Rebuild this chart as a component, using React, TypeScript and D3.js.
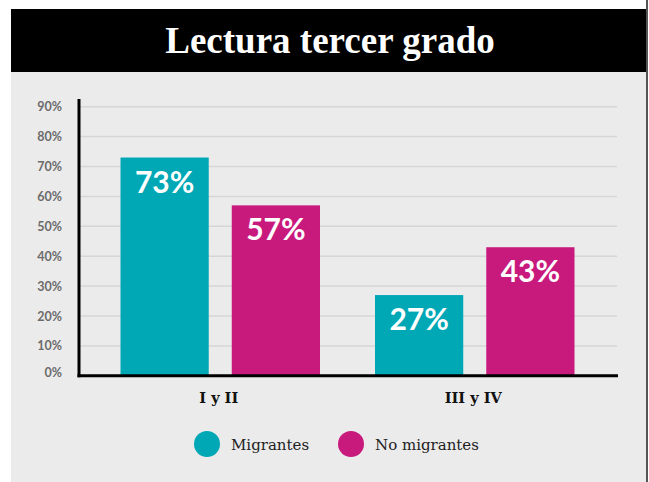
import React, { useEffect, useRef } from 'react';
import * as d3 from 'd3';

const title = 'Lectura tercer grado';
const categories = ['I y II', 'III y IV'];
const seriesNames = ['Migrantes', 'No migrantes'];
const migrantes = [73, 27];
const noMigrantes = [57, 43];
const yTicks = [0, 10, 20, 30, 40, 50, 60, 70, 80, 90];
const colors = ['#00a7b5', '#c8197c'];

const App = () => {
  const svgRef = useRef<SVGSVGElement>(null);

  useEffect(() => {
    const width = 649;
    const height = 482;
    const svg = d3.select(svgRef.current).attr('width', width).attr('height', height);
    svg.selectAll('*').remove();

    // panel + header
    svg.append('rect').attr('x', 11).attr('y', 9).attr('width', 635).attr('height', 473).attr('fill', '#ebebeb');
    svg.append('rect').attr('x', 646).attr('y', 0).attr('width', 2).attr('height', height).attr('fill', '#555');
    svg.append('rect').attr('x', 11).attr('y', 9).attr('width', 635).attr('height', 63).attr('fill', '#000');
    svg
      .append('text')
      .attr('x', 330)
      .attr('y', 53)
      .attr('text-anchor', 'middle')
      .attr('fill', '#fff')
      .style('font-family', '"Liberation Serif", serif')
      .style('font-weight', 'bold')
      .style('font-size', '37px')
      .text(title);

    const yScale = d3.scaleLinear().domain([0, 90]).range([375.8, 106.7]);
    const x0 = d3.scaleBand().domain(categories).range([93, 602]).padding(0);
    const x1 = d3
      .scaleBand()
      .domain(seriesNames)
      .range([27.5, x0.bandwidth() - 27.5])
      .paddingInner(0.207)
      .paddingOuter(0);

    // grid
    svg
      .append('g')
      .selectAll('line')
      .data(yTicks.slice(1))
      .join('line')
      .attr('x1', 79)
      .attr('x2', 617)
      .attr('y1', (d) => yScale(d))
      .attr('y2', (d) => yScale(d))
      .attr('stroke', '#d6d6d6')
      .attr('stroke-width', 1.5);

    // tick labels
    svg
      .append('g')
      .selectAll('text')
      .data(yTicks)
      .join('text')
      .attr('x', 62)
      .attr('y', (d) => yScale(d) + 4.5 - (d === 0 ? 3 : 0))
      .attr('text-anchor', 'end')
      .attr('fill', '#6b6b6b')
      .style('font-family', 'Lato, sans-serif')
      .style('font-weight', 'bold')
      .style('font-size', '12.5px')
      .text((d) => d + '%');

    const rows = categories.map((c, i) => ({ c, vals: [migrantes[i], noMigrantes[i]] }));
    const groups = svg
      .append('g')
      .selectAll('g')
      .data(rows)
      .join('g')
      .attr('transform', (d) => `translate(${x0(d.c)},0)`);

    groups
      .selectAll('rect')
      .data((d) => d.vals.map((v, j) => ({ v, s: seriesNames[j], j })))
      .join('rect')
      .attr('x', (d) => x1(d.s) as number)
      .attr('y', (d) => yScale(d.v))
      .attr('width', x1.bandwidth())
      .attr('height', (d) => yScale(0) - yScale(d.v))
      .attr('fill', (d) => colors[d.j]);

    groups
      .selectAll('text')
      .data((d) => d.vals.map((v, j) => ({ v, s: seriesNames[j] })))
      .join('text')
      .attr('x', (d) => (x1(d.s) as number) + x1.bandwidth() / 2)
      .attr('y', (d) => yScale(d.v) + 35)
      .attr('text-anchor', 'middle')
      .attr('fill', '#fff')
      .style('font-family', 'Lato, sans-serif')
      .style('font-weight', 'bold')
      .style('font-size', '30px')
      .text((d) => d.v + '%');

    // axes lines
    svg.append('line').attr('x1', 79).attr('x2', 79).attr('y1', 99).attr('y2', 377.3).attr('stroke', '#000').attr('stroke-width', 3);
    svg.append('line').attr('x1', 77.5).attr('x2', 618).attr('y1', yScale(0)).attr('y2', yScale(0)).attr('stroke', '#000').attr('stroke-width', 3);

    // category labels
    svg
      .append('g')
      .selectAll('text')
      .data(categories)
      .join('text')
      .attr('x', (d) => (x0(d) as number) + x0.bandwidth() / 2 - 1.5)
      .attr('y', 403)
      .attr('text-anchor', 'middle')
      .attr('fill', '#111')
      .style('font-family', '"DejaVu Serif", serif')
      .style('font-weight', 'bold')
      .style('font-size', '14.5px')
      .text((d) => d);

    // legend
    const legendX = [207, 351];
    const legend = svg
      .append('g')
      .selectAll('g')
      .data(seriesNames)
      .join('g')
      .attr('transform', (d, i) => `translate(${legendX[i]},444)`);
    legend.append('circle').attr('r', 13).attr('fill', (d, i) => colors[i]);
    legend
      .append('text')
      .attr('x', 24)
      .attr('y', 6)
      .attr('fill', '#222')
      .style('font-family', '"DejaVu Serif", serif')
      .style('font-size', '15px')
      .text((d) => d);
  }, []);

  return (
    <div>
      <svg ref={svgRef} style={{ position: 'absolute', left: 0, top: 0 }}></svg>
    </div>
  );
};

export default App;
